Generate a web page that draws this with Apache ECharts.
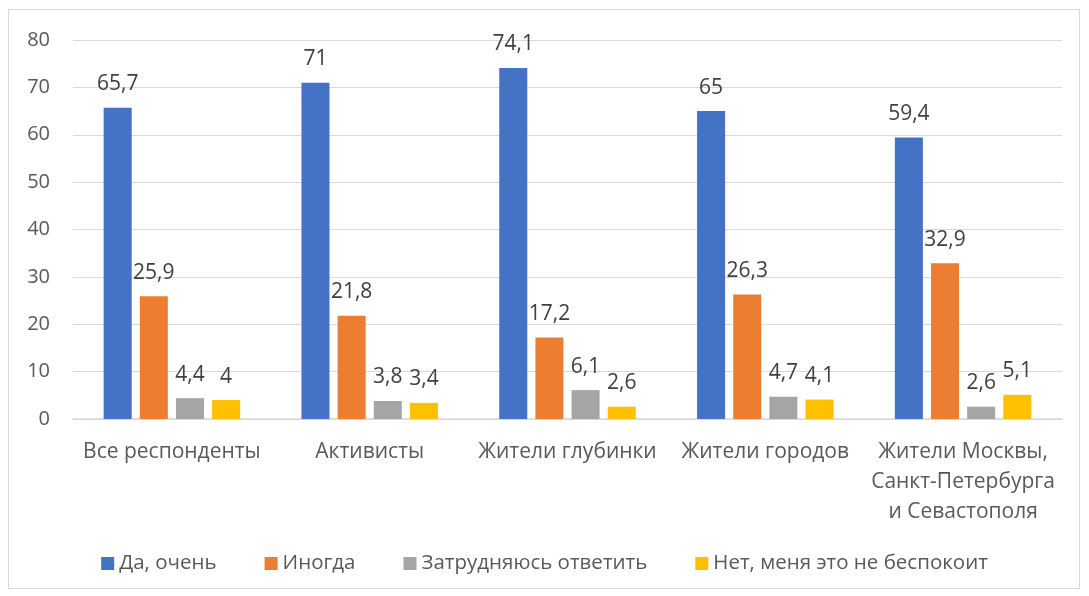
<!doctype html>
<html>
<head>
  <meta charset="utf-8">
  <title>chart</title>
  <script src="https://cdn.jsdelivr.net/npm/echarts@6/dist/echarts.min.js"></script>
  <style>
    html, body { margin: 0; padding: 0; background: #fff; }
    #main { width: 1089px; height: 596px; }
    #frame {
      position: absolute; left: 8px; top: 9px; width: 1072px; height: 580px;
      border: 1px solid #d9d9d9; box-sizing: border-box; pointer-events: none;
    }
  </style>
</head>
<body>
  <div id="main"></div>
  <div id="frame"></div>
<script>
var categories = ['Все респонденты', 'Активисты', 'Жители глубинки', 'Жители городов', 'Жители Москвы,\nСанкт-Петербурга\nи Севастополя'];
var seriesNames = ['Да, очень', 'Иногда', 'Затрудняюсь ответить', 'Нет, меня это не беспокоит'];
var yes = [65.7, 71, 74.1, 65, 59.4];
var sometimes = [25.9, 21.8, 17.2, 26.3, 32.9];
var hard = [4.4, 3.8, 6.1, 4.7, 2.6];
var no = [4, 3.4, 2.6, 4.1, 5.1];
var colors = ['#4472c4', '#ed7d31', '#a5a5a5', '#ffc000'];

var font = '"Open Sans", "Noto Sans", sans-serif';

function makeSeries(name, data, color) {
  return {
    name: name,
    type: 'bar',
    data: data,
    barGap: '29%',
    barCategoryGap: '31%',
    itemStyle: { color: color },
    label: {
      show: true,
      position: 'top',
      distance: 13,
      color: '#404040',
      fontSize: 21,
      fontFamily: font,
      formatter: function (p) { return String(p.value).replace('.', ','); }
    }
  };
}

var myChart = echarts.init(document.getElementById('main'));
var option = {
  animation: false,
  textStyle: { fontFamily: font },
  color: colors,
  legend: {
    bottom: 17,
    left: 'center',
    itemWidth: 13,
    itemHeight: 13,
    itemGap: 48,
    icon: 'rect',
    textStyle: { color: '#595959', fontSize: 20.5, fontFamily: font },
    data: seriesNames
  },
  grid: { left: 73, right: 27, top: 40, bottom: 177 },
  xAxis: {
    type: 'category',
    data: categories,
    axisTick: { show: false },
    axisLine: { lineStyle: { color: '#d9d9d9', width: 1.5 } },
    axisLabel: { color: '#595959', fontSize: 21, fontFamily: font, margin: 18, lineHeight: 30, interval: 0 }
  },
  yAxis: {
    type: 'value',
    min: 0,
    max: 80,
    interval: 10,
    axisLine: { show: false },
    axisTick: { show: false },
    splitLine: { lineStyle: { color: '#d9d9d9', width: 1 } },
    axisLabel: { color: '#595959', fontSize: 20, fontFamily: font, margin: 23 }
  },
  series: [
    makeSeries(seriesNames[0], yes, colors[0]),
    makeSeries(seriesNames[1], sometimes, colors[1]),
    makeSeries(seriesNames[2], hard, colors[2]),
    makeSeries(seriesNames[3], no, colors[3])
  ]
};
myChart.setOption(option);
</script>
</body>
</html>
